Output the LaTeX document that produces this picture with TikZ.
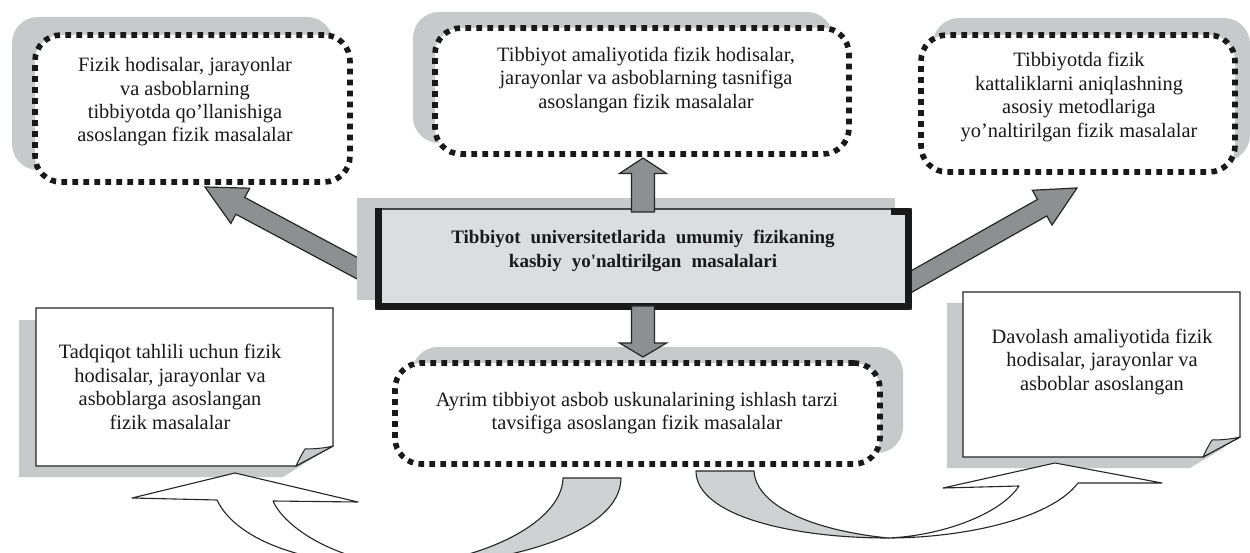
\documentclass[tikz,border=0pt]{standalone}
\usepackage{fontspec}
\setmainfont{Liberation Serif}
\usetikzlibrary{calc}
\definecolor{shadowgray}{HTML}{C8C9CB}
\definecolor{coregray}{HTML}{DCDDDF}
\definecolor{arrowgray}{HTML}{8E8F91}
\definecolor{bandgray}{HTML}{D0D1D3}
\definecolor{inkline}{HTML}{262626}
\tikzset{
  dotbox/.style={rectangle, draw=black!90, line width=5.6pt, dash pattern=on 5.6pt off 5.4pt, fill=white, rounded corners=26pt, inner sep=0pt},
  shadebox/.style={fill=shadowgray, rounded corners=26pt},
  txt/.style={align=center, font=\fontsize{20.4}{23.4}\selectfont, inner sep=0pt, text=black!90},
  coretxt/.style={align=center, font=\fontsize{19}{24}\selectfont\bfseries, inner sep=0pt, text=black!90},
  blockarrow/.style={fill=arrowgray, draw=inkline, line width=1.2pt, line join=miter},
  paper/.style={fill=white, draw=inkline, line width=1.4pt},
  curl/.style={fill=shadowgray, draw=inkline, line width=1pt, line join=round},
  ribbon/.style={draw=inkline, line width=1.1pt, line join=round},
}
\newcommand{\blockarr}[5]{%
  \coordinate (#1-#2-h) at ($(#2)!#5!(#1)$);
  \draw[blockarrow] ($(#1)!#3!90:(#2)$) -- ($(#1-#2-h)!#3!90:(#2)$) -- ($(#1-#2-h)!#4!90:(#2)$) -- (#2) -- ($(#1-#2-h)!#4!-90:(#2)$) -- ($(#1-#2-h)!#3!-90:(#2)$) -- ($(#1)!#3!-90:(#2)$) -- cycle;
}
\begin{document}
\begin{tikzpicture}[x=1pt,y=-1pt]
\clip (0,0) rectangle (1250,553);
\fill[white] (0,0) rectangle (1250,553);

% shadows of the dotted boxes and papers
\fill[shadebox] (12,17) rectangle (333,170);
\fill[shadebox] (413,12) rectangle (833,143);
\fill[shadebox] (933,18) rectangle (1250,161);
\fill[shadebox] (412,347) rectangle (903,453);
\fill[shadowgray] (19,320) -- (318,320) -- (318,455) -- (283,477) -- (19,477) -- cycle;
\fill[shadowgray] (947,303) -- (1225,303) -- (1225,447) -- (1190,468) -- (947,468) -- cycle;

% dotted boxes
\node[dotbox, minimum width=315pt, minimum height=147pt] (tl) at (192.5,108.5) {};
\node[dotbox, minimum width=414pt, minimum height=126pt] (tm) at (642,91) {};
\node[dotbox, minimum width=314pt, minimum height=137pt] (tr) at (1078,103.5) {};
\node[dotbox, minimum width=485pt, minimum height=101pt] (bm) at (637.5,413.5) {};

% connector end points
\coordinate (ul-tail) at (368,274);
\coordinate (ul-tip) at (205,187);
\coordinate (ur-tail) at (900,288);
\coordinate (ur-tip) at (1077,188);
\coordinate (up-tail) at (643,212);
\coordinate (up-tip) at (643,158);
\coordinate (dn-tail) at (643,306);
\coordinate (dn-tip) at (643,357);

% diagonal block arrows (tails hidden behind the central box)
\blockarr{ul-tail}{ul-tip}{9.5pt}{20pt}{40pt}
\blockarr{ur-tail}{ur-tip}{9.5pt}{20pt}{40pt}

% central box
\fill[shadowgray] (357,198) rectangle (895,300);
\node[rectangle, draw=inkline!85, line width=1.5pt, fill=coregray, minimum width=535pt, minimum height=100pt, inner sep=0pt] (core) at (643.5,259) {};
\draw[line width=7pt, black!90, line join=round]
  ($(core.north west)+(3.5,0)$) -- ($(core.south west)+(3.5,-3.5)$) -- ($(core.south east)+(-3.5,-3.5)$) -- ($(core.north east)+(-3.5,3.5)$) -- ++(-17,0);

% vertical block arrows
\blockarr{up-tail}{up-tip}{11.5pt}{23.5pt}{15.5pt}
\blockarr{dn-tail}{dn-tip}{11.5pt}{23.5pt}{14pt}

% papers with curled corner
\draw[paper] (36,308) -- (333,308) -- (333,446) -- (296,466) -- (36,466) -- cycle;
\draw[curl] (296,466) .. controls (299,459) and (302,454) .. (305,449) .. controls (315,449) and (325,448) .. (333,446) -- cycle;
\draw[paper] (963,292) -- (1240,292) -- (1240,437) -- (1203,457) -- (963,457) -- cycle;
\draw[curl] (1203,457) .. controls (1206,450) and (1209,445) .. (1212,440) .. controls (1222,440) and (1232,439) .. (1240,437) -- cycle;

% texts
\node[txt] (tl-t) at (185,102) {Fizik hodisalar, jarayonlar\\va asboblarning\\tibbiyotda qo’llanishiga\\asoslangan fizik masalalar};
\node[txt] (tm-t) at (646,80) {Tibbiyot amaliyotida fizik hodisalar,\\jarayonlar va asboblarning tasnifiga\\asoslangan fizik masalalar};
\node[txt] (tr-t) at (1079,97) {Tibbiyotda fizik\\kattaliklarni aniqlashning\\asosiy metodlariga\\yo’naltirilgan fizik masalalar};
\node[coretxt] (core-t) at (643,251) {Tibbiyot\hspace{10pt}universitetlarida\hspace{10pt}umumiy\hspace{10pt}fizikaning\\kasbiy\hspace{10pt}yo\textquotesingle naltirilgan\hspace{10pt}masalalari};
\node[txt] (bm-t) at (637,413) {Ayrim tibbiyot asbob uskunalarining ishlash tarzi\\tavsifiga asoslangan fizik masalalar};
\node[txt] (bl-t) at (170,387) {Tadqiqot tahlili uchun fizik\\hodisalar, jarayonlar va\\asboblarga asoslangan\\fizik masalalar};
\node[txt] (br-t) at (1102,362) {Davolash amaliyotida fizik\\hodisalar, jarayonlar va\\asboblar asoslangan};

% curved ribbon arrows from the bottom box to the papers
\filldraw[ribbon, fill=bandgray] (621,478) .. controls (621,535) and (500,566) .. (402,566) .. controls (485,560) and (562,522) .. (563,478) -- cycle;
\filldraw[ribbon, fill=white] (402,566) .. controls (300,566) and (235,538) .. (217,500) -- (132,498) -- (235,473) -- (358,502) -- (273,501) .. controls (285,528) and (335,560) .. (402,566) -- cycle;
\filldraw[ribbon, fill=bandgray] (696,471) .. controls (696,515) and (790,538) .. (888,538) .. controls (810,530) and (756,505) .. (754,471) -- cycle;
\filldraw[ribbon, fill=white] (888,538) .. controls (960,538) and (1050,520) .. (1078,483) -- (1162,483) -- (1055,463) -- (943,488) -- (1019,486) .. controls (1000,515) and (940,536) .. (888,538) -- cycle;
\end{tikzpicture}
\end{document}
